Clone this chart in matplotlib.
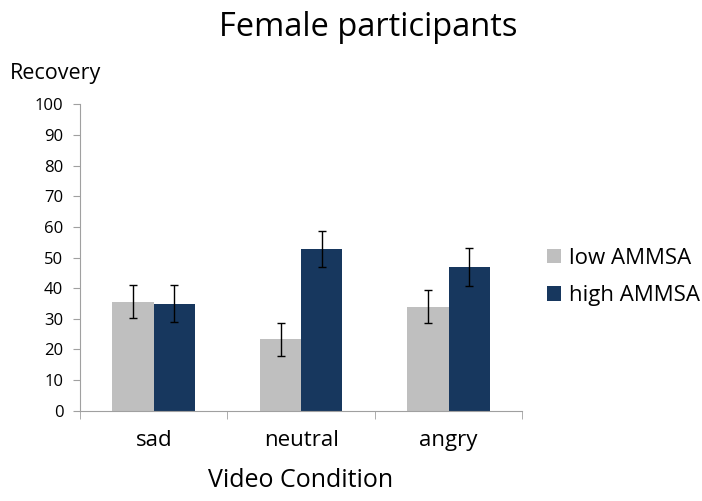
import matplotlib
matplotlib.use('Agg')
import matplotlib.pyplot as plt
import numpy as np

# Recovery by video condition, female participants
conditions = ['sad', 'neutral', 'angry']
low_ammsa = [35.6, 23.3, 34.0]
high_ammsa = [34.9, 52.8, 47.0]
low_err = [5.4, 5.4, 5.4]
high_err = [6.0, 6.0, 6.2]
series_labels = ['low AMMSA', 'high AMMSA']
y_ticks = list(range(0, 101, 10))

plt.rcParams['font.family'] = ['Open Sans', 'DejaVu Sans']

low_color = '#bfbfbf'
high_color = '#17375e'
axis_color = '#a0a0a0'

fig = plt.figure(figsize=(7.02, 5.01), dpi=100)
ax = fig.add_axes([0.114, 0.18, 0.63, 0.612])

x = np.arange(len(conditions))
width = 0.28
ax.bar(x - width / 2, low_ammsa, width, color=low_color, label=series_labels[0],
       yerr=low_err, error_kw=dict(ecolor='black', elinewidth=1, capsize=3, capthick=1))
ax.bar(x + width / 2, high_ammsa, width, color=high_color, label=series_labels[1],
       yerr=high_err, error_kw=dict(ecolor='black', elinewidth=1, capsize=3, capthick=1))

ax.set_xlim(-0.5, len(conditions) - 0.5)
ax.set_ylim(0, 100)
ax.set_yticks(y_ticks)
ax.tick_params(axis='y', labelsize=12, length=5, pad=7, color=axis_color, direction='out')

# category labels centred, tick marks on category boundaries (Excel style)
ax.set_xticks(x)
ax.set_xticklabels(conditions, fontsize=16)
ax.tick_params(axis='x', which='major', length=0, pad=14)
ax.set_xticks(np.arange(-0.5, len(conditions)), minor=True)
ax.tick_params(axis='x', which='minor', length=6, color=axis_color, direction='out')

for side in ['top', 'right']:
    ax.spines[side].set_visible(False)
for side in ['left', 'bottom']:
    ax.spines[side].set_color(axis_color)

fig.text(0.524, 0.945, 'Female participants', ha='center', va='center', fontsize=23.5)
fig.text(0.014, 0.853, 'Recovery', ha='left', va='center', fontsize=15.5)
fig.text(0.428, 0.04, 'Video Condition', ha='center', va='center', fontsize=18)

ax.legend(loc='center left', bbox_to_anchor=(1.01, 0.436), frameon=False,
          fontsize=16, handlelength=0.65, handleheight=0.65, handletextpad=0.35,
          labelspacing=0.75)

fig.savefig('out.png', dpi=100)
plt.close(fig)
